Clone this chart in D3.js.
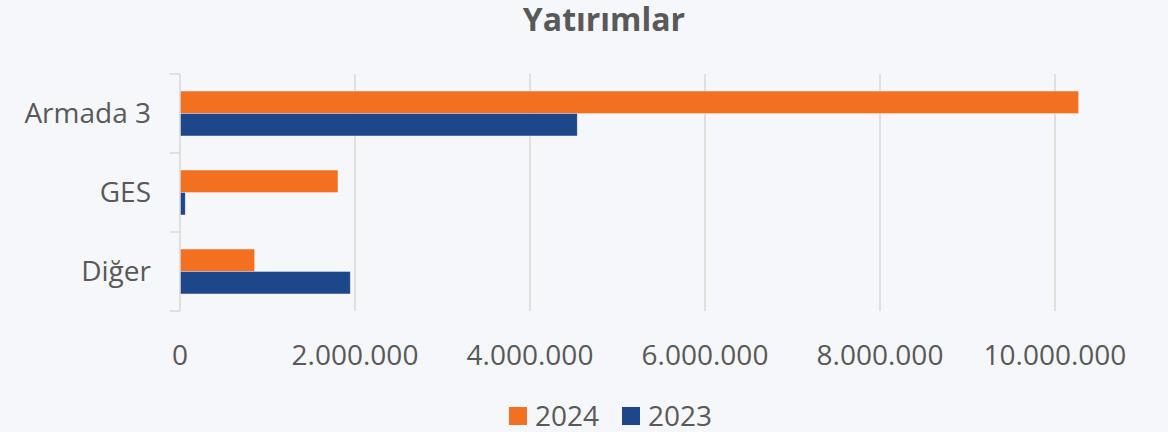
<!DOCTYPE html>
<html>
<head>
<meta charset="utf-8">
<script src="https://cdn.jsdelivr.net/npm/d3@7"></script>
<style>
  body { margin: 0; background: #f6f7fb; }
  svg { display: block; font-family: "Open Sans", "Noto Sans", sans-serif; }
</style>
</head>
<body>
<div id="chart"></div>
<script>
const categories = ["Armada 3", "GES", "Diğer"]
const series = ["2024", "2023"]
const values_2024 = [10270000, 1805000, 853000]
const values_2023 = [4540000, 60000, 1946000]
const x_ticks = [0, 2000000, 4000000, 6000000, 8000000, 10000000]

const colors = { "2024": "#f37021", "2023": "#1e468b" }

const width = 1168
const height = 432
const margin = { top: 74, right: 47, bottom: 121, left: 180 }

const data = categories.map((c, i) => ({ cat: c, "2024": values_2024[i], "2023": values_2023[i] }))

const svg = d3.select("#chart")
    .append("svg")
    .attr("width", width)
    .attr("height", height)

svg.append("rect")
    .attr("width", width)
    .attr("height", height)
    .attr("fill", "#f6f7fb")

const x = d3.scaleLinear()
    .domain([0, 12000000])
    .range([margin.left, margin.left + 1050])

const y = d3.scaleBand()
    .domain(categories)
    .range([margin.top, height - margin.bottom])

const y_inner = d3.scaleBand()
    .domain(series)
    .range([0, y.bandwidth()])
    .paddingInner(0)
    .paddingOuter(0.76)

const locale = d3.formatLocale({ decimal: ",", thousands: ".", grouping: [3], currency: ["", ""] })
const fmt = locale.format(",.0f")

// gridlines
svg.append("g")
    .selectAll("line")
    .data(x_ticks.slice(1))
    .join("line")
    .attr("x1", d => x(d))
    .attr("x2", d => x(d))
    .attr("y1", margin.top)
    .attr("y2", height - margin.bottom)
    .attr("stroke", "#d9d9d9")
    .attr("stroke-width", 1.5)

// bars
const groups = svg.append("g")
    .selectAll("g")
    .data(data)
    .join("g")
    .attr("transform", d => `translate(0,${y(d.cat)})`)

groups.selectAll("rect")
    .data(d => series.map(s => ({ s, v: d[s] })))
    .join("rect")
    .attr("x", x(0))
    .attr("y", d => y_inner(d.s))
    .attr("width", d => x(d.v) - x(0))
    .attr("height", y_inner.bandwidth())
    .attr("fill", d => colors[d.s])
    .attr("stroke", "#ffffff")
    .attr("stroke-opacity", 0.45)
    .attr("stroke-width", 0.75)

// y axis line + ticks
const yaxis = svg.append("g")
yaxis.append("line")
    .attr("x1", x(0)).attr("x2", x(0))
    .attr("y1", margin.top).attr("y2", height - margin.bottom)
    .attr("stroke", "#d9d9d9")
    .attr("stroke-width", 1.5)
yaxis.selectAll(".tk")
    .data(y.domain().map(d => y(d)).concat([height - margin.bottom]))
    .join("line")
    .attr("class", "tk")
    .attr("x1", x(0) - 10).attr("x2", x(0))
    .attr("y1", d => d).attr("y2", d => d)
    .attr("stroke", "#d9d9d9")
    .attr("stroke-width", 1.5)

yaxis.selectAll("text")
    .data(categories)
    .join("text")
    .attr("x", 151)
    .attr("y", d => y(d) + y.bandwidth() / 2)
    .attr("dy", "0.35em")
    .attr("text-anchor", "end")
    .attr("fill", "#595959")
    .attr("font-size", 28)
    .text(d => d)

// x tick labels
svg.append("g")
    .selectAll("text")
    .data(x_ticks)
    .join("text")
    .attr("x", d => x(d))
    .attr("y", 355)
    .attr("dy", "0.35em")
    .attr("text-anchor", "middle")
    .attr("fill", "#595959")
    .attr("font-size", 28)
    .text(d => fmt(d))

// title
svg.append("text")
    .attr("x", 604)
    .attr("y", 31)
    .attr("text-anchor", "middle")
    .attr("fill", "#595959")
    .attr("font-size", 32)
    .attr("font-weight", "bold")
    .text("Yatırımlar")

// legend
const legend = svg.append("g")
    .selectAll("g")
    .data(series)
    .join("g")
    .attr("transform", (d, i) => `translate(${509 + i * 113},407)`)

legend.append("rect")
    .attr("width", 18)
    .attr("height", 18)
    .attr("fill", d => colors[d])

legend.append("text")
    .attr("x", 26)
    .attr("y", 9)
    .attr("dy", "0.35em")
    .attr("fill", "#595959")
    .attr("font-size", 28)
    .text(d => d)
</script>
</body>
</html>
